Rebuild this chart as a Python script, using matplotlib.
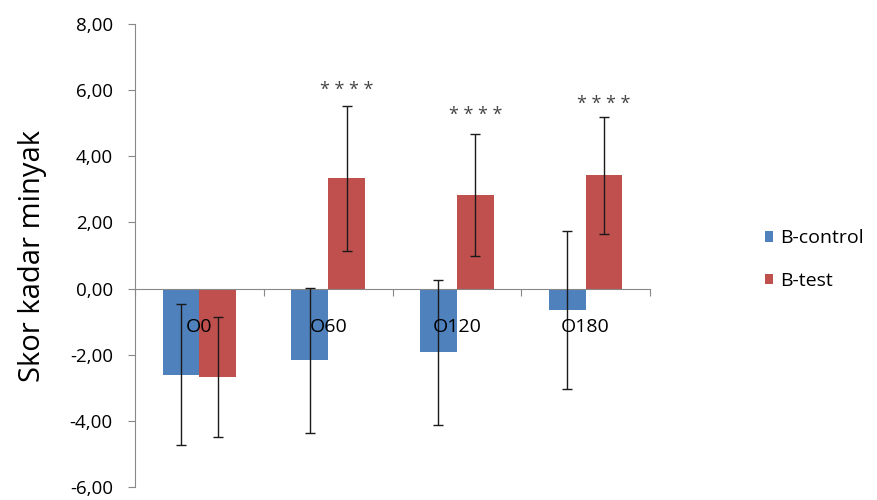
import numpy as np
import matplotlib
matplotlib.use("Agg")
import matplotlib.pyplot as plt
from matplotlib.ticker import FuncFormatter, MultipleLocator

# kelompok waktu dan nilai rata-rata / SD per kelompok
groups = ["O0", "O60", "O120", "O180"]
control_mean = [-2.60, -2.17, -1.93, -0.65]
control_sd = [2.12, 2.20, 2.20, 2.38]
test_mean = [-2.68, 3.33, 2.82, 3.42]
test_sd = [1.82, 2.20, 1.85, 1.78]
signif = ["", "* * * *", "* * * *", "* * * *"]
star_y = [0, 6.00, 5.24, 5.57]

plt.rcParams['font.family'] = ['Open Sans', 'DejaVu Sans']

fig = plt.figure(figsize=(8.78, 5), dpi=100)
ax = fig.add_axes([0.1538, 0.026, 0.5865, 0.926])

x = np.arange(len(groups))
w = 1 / 3.5
ax.bar(x - w / 2, control_mean, w, color="#4F81BD", label="B-control", zorder=2)
ax.bar(x + w / 2, test_mean, w, color="#C0504D", label="B-test", zorder=2)
ax.errorbar(x - w / 2, control_mean, yerr=control_sd, fmt="none", ecolor="#1a1a1a",
            elinewidth=1, capsize=3.5, capthick=1, zorder=3)
ax.errorbar(x + w / 2, test_mean, yerr=test_sd, fmt="none", ecolor="#1a1a1a",
            elinewidth=1, capsize=3.5, capthick=1, zorder=3)

for i, s in enumerate(signif):
    if s:
        ax.text(x[i] + w / 2, star_y[i], s, ha="center", va="center",
                fontsize=13, color="#444444")

# label kategori di dalam area plot, di bawah garis nol
for i, g in enumerate(groups):
    ax.text(x[i], -1.15, g, ha="center", va="center", fontsize=14, color="black", zorder=4)

ax.set_xlim(-0.5, 3.5)
ax.set_ylim(-6, 8)
ax.yaxis.set_major_locator(MultipleLocator(2))
ax.yaxis.set_major_formatter(FuncFormatter(lambda v, p: f"{v:.2f}".replace(".", ",")))
ax.tick_params(axis="y", labelsize=13.5, length=5, width=0.8, color="#888888", pad=11)

ax.spines["top"].set_visible(False)
ax.spines["right"].set_visible(False)
ax.spines["left"].set_color("#888888")
ax.spines["bottom"].set_position(("data", 0))
ax.spines["bottom"].set_color("#888888")
ax.set_xticks(np.arange(-0.5, 4, 1))
ax.set_xticklabels([])
ax.tick_params(axis="x", direction="out", length=5, width=0.8, color="#888888")

ax.set_ylabel("Skor kadar minyak", fontsize=21, labelpad=16)

fig.legend(loc="center left", bbox_to_anchor=(0.851, 0.481), frameon=False,
           fontsize=14, handlelength=0.45, handleheight=0.45, handletextpad=0.35,
           labelspacing=1.25)

fig.savefig("out.png", dpi=100)
